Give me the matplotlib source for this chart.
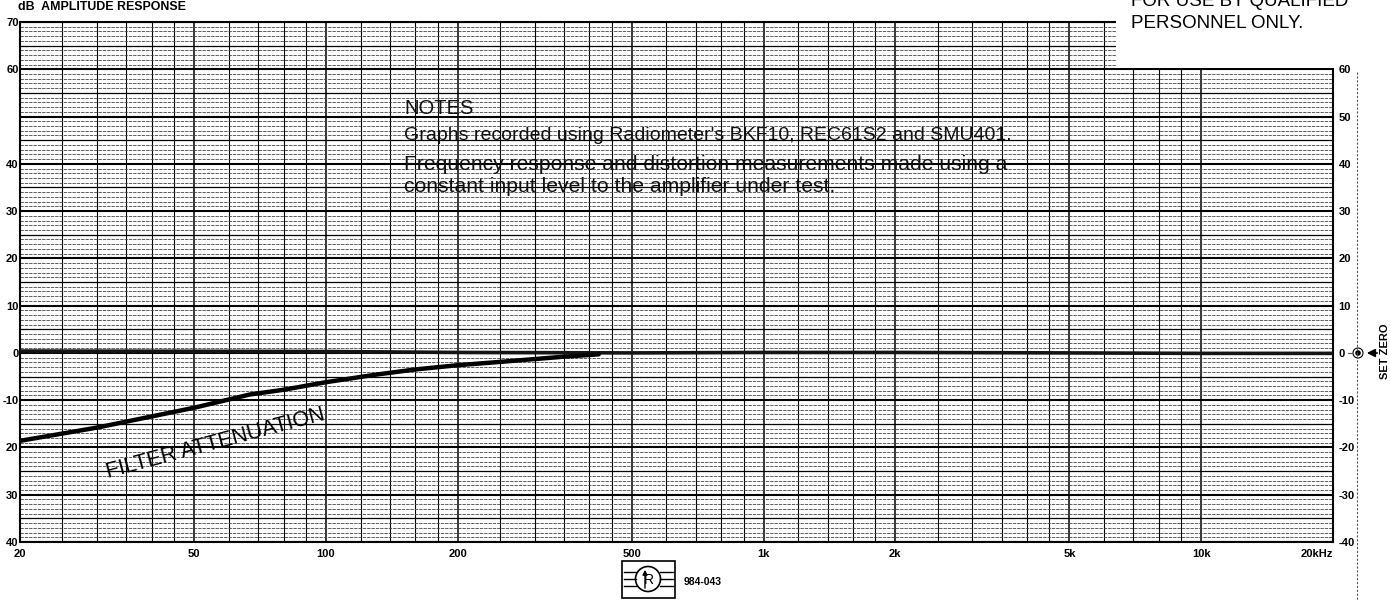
import matplotlib.pyplot as plt
import matplotlib.patches as mpatches

plt.rcParams['font.family'] = ['Liberation Sans', 'DejaVu Sans']

filter_freq = [20, 30, 50, 67, 80, 100, 130, 160, 200, 250, 300, 350, 420]
filter_db = [-18.6, -15.8, -11.6, -8.8, -7.8, -6.2, -4.6, -3.5, -2.6, -1.9, -1.3, -0.8, -0.3]

resp_freq = [20, 50, 100, 200, 500, 1000, 2000, 5000, 10000, 20000]
resp_db = [0.4, 0.35, 0.3, 0.1, 0.0, 0.1, 0.1, 0.0, -0.1, -0.1]

xtick_vals = [20, 50, 100, 200, 500, 1000, 2000, 5000, 10000, 20000]
xtick_labels = ['20', '50', '100', '200', '500', '1k', '2k', '5k', '10k', '20kHz']
left_ticks = [70, 60, 40, 30, 20, 10, 0, -10, -20, -30, -40]
left_labels = ['70', '60', '40', '30', '20', '10', '0', '-10', '20', '30', '40']
right_ticks = [60, 50, 40, 30, 20, 10, 0, -10, -20, -30, -40]
right_labels = ['60', '50', '40', '30', '20', '10', '0', '-10', '-20', '-30', '-40']

W, H = 1390, 601
fig = plt.figure(figsize=(W / 100, H / 100), dpi=100)
ax = fig.add_axes([20 / W, (H - 542) / H, (1333 - 20) / W, (542 - 22) / H])
ax.set_xscale('log')
ax.set_xlim(20, 20000)
ax.set_ylim(-40, 70)

# chart paper grid
steps = [1.2, 1.4, 1.6, 1.8, 2, 2.5, 3, 3.5, 4, 4.5, 5, 6, 7, 8, 9, 10]
vlines = sorted({round(s * d, 3) for d in [10, 100, 1000] for s in steps if 20 <= s * d <= 20000})
for f in vlines:
    lw = 1.1 if f in (20, 50, 100, 200, 500, 1000, 2000, 5000, 10000) else 0.8
    ax.axvline(f, color='black', lw=lw, zorder=1)
for y in range(-40, 71):
    if y % 10 == 0:
        ax.axhline(y, color='black', lw=1.5, zorder=1)
    elif y % 5 == 0:
        ax.axhline(y, color='black', lw=0.9, zorder=1)
    else:
        ax.axhline(y, color='#444444', lw=0.6, ls=(0, (4, 1.2)), zorder=1)

# cut-out corner of the paper (top right)
ax.add_patch(mpatches.Rectangle((6390, 60.25), 16000, 12, facecolor='white',
                                edgecolor='none', zorder=3, clip_on=False))

ax.plot(resp_freq, resp_db, color='#151515', lw=2.6, zorder=4)
ax.plot(filter_freq, filter_db, color='black', lw=3.2, zorder=4, solid_capstyle='round')

ax.set_xticks(xtick_vals)
ax.set_xticklabels(xtick_labels)
ax.xaxis.set_minor_locator(plt.NullLocator())
ax.set_yticks(left_ticks)
ax.set_yticklabels(left_labels)
ax.tick_params(axis='both', length=0, labelsize=8)
ax.tick_params(axis='x', pad=5)
ax.tick_params(axis='y', pad=1)
for t in ax.get_xticklabels() + ax.get_yticklabels():
    t.set_fontweight('bold')
ax.get_xticklabels()[-1].set_ha('right')
for s in ax.spines.values():
    s.set_linewidth(1.5)

ax2 = ax.twinx()
ax2.set_ylim(-40, 70)
ax2.set_yticks(right_ticks)
ax2.set_yticklabels(right_labels)
ax2.tick_params(axis='y', length=0, pad=4, labelsize=8)
for t in ax2.get_yticklabels():
    t.set_fontweight('bold')
for s in ax2.spines.values():
    s.set_visible(False)

ax.text(31.7, -26.4, 'FILTER ATTENUATION', rotation=15, fontsize=15.5,
        ha='left', va='baseline', rotation_mode='anchor', zorder=5)

# overlay in pixel coordinates for paper annotations
ov = fig.add_axes([0, 0, 1, 1], zorder=10)
ov.set_xlim(0, W)
ov.set_ylim(H, 0)
ov.axis('off')
ov.patch.set_alpha(0)

ov.text(18, 7, 'dB  AMPLITUDE RESPONSE', fontsize=8.9, fontweight='bold', va='center')
ov.text(1131, 1, 'FOR USE BY QUALIFIED', fontsize=13.5, va='center')
ov.text(1131, 23, 'PERSONNEL ONLY.', fontsize=13.5, va='center')

notes = ['NOTES',
         "Graphs recorded using Radiometer's BKF10, REC61S2 and SMU401.",
         'Frequency response and distortion measurements made using a',
         'constant input level to the amplifier under test.']
note_sizes = [14.5, 14, 15.2, 15.2]
for txt, yy, fs in zip(notes, [108, 135, 164, 186], note_sizes):
    ov.text(404, yy, txt, fontsize=fs, va='center', color='#111111')

# SET ZERO marker on the right
ov.plot([1357, 1357], [72, 601], color='#555555', lw=0.8, ls=(0, (2, 1.5)))
ov.plot([1348, 1352], [353, 353], color='#555555', lw=0.8)
ov.add_patch(mpatches.Circle((1358, 353), 5, facecolor='white', edgecolor='black', lw=0.8))
ov.add_patch(mpatches.Circle((1358, 353), 2.8, facecolor='black'))
ov.annotate('', xy=(1364, 353), xytext=(1380, 353),
            arrowprops=dict(arrowstyle='-|>', color='black', lw=1.2, mutation_scale=12))
ov.text(1385, 351, 'SET ZERO', rotation=90, fontsize=8, fontweight='bold',
        ha='center', va='center')

# maker's logo
ov.add_patch(mpatches.Rectangle((622, 561), 53, 37, facecolor='white', edgecolor='black', lw=1.2))
for yy in [572, 579, 586]:
    ov.plot([624, 636], [yy, yy], color='black', lw=1.0)
    ov.plot([660, 673], [yy, yy], color='black', lw=1.0)
ov.add_patch(mpatches.Circle((648, 579), 12.5, facecolor='white', edgecolor='black', lw=1.2))
ov.text(649, 580, 'R', fontsize=10, ha='center', va='center')
ov.annotate('', xy=(645, 567), xytext=(645, 591),
            arrowprops=dict(arrowstyle='-|>', color='black', lw=1.0, mutation_scale=7))
ov.text(684, 582, '984-043', fontsize=7.5, va='center', fontweight='bold')

fig.savefig('out.png', dpi=100)
